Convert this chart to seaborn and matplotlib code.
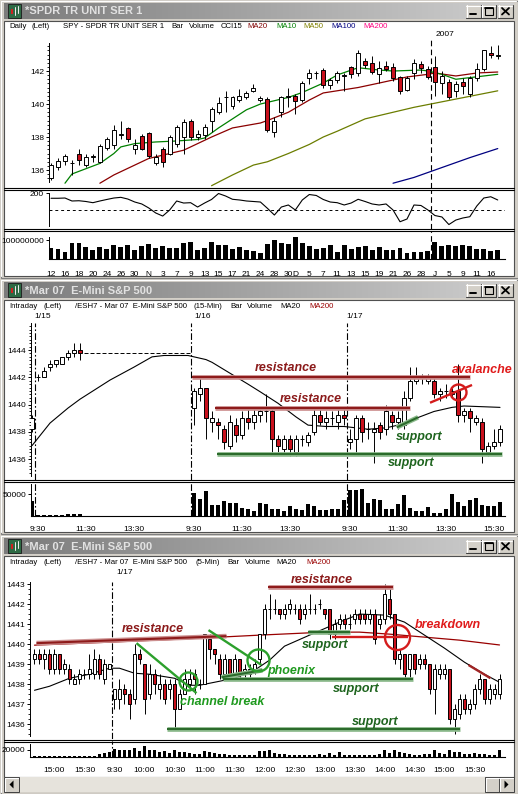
import numpy as np
import pandas as pd
import matplotlib
matplotlib.use("Agg")
import matplotlib.pyplot as plt
import seaborn as sns
from matplotlib.patches import Rectangle, Polygon
from matplotlib.colors import LinearSegmentedColormap

# ------------------------------------------------------------------
# SPY daily bars, 12 Oct 2006 - 17 Jan 2007
# ------------------------------------------------------------------
spy_dates = [
    "2006-10-12", "2006-10-13", "2006-10-16", "2006-10-17", "2006-10-18",
    "2006-10-19", "2006-10-20", "2006-10-23", "2006-10-24", "2006-10-25",
    "2006-10-26", "2006-10-27", "2006-10-30", "2006-10-31", "2006-11-01",
    "2006-11-02", "2006-11-03", "2006-11-06", "2006-11-07", "2006-11-08",
    "2006-11-09", "2006-11-10", "2006-11-13", "2006-11-14", "2006-11-15",
    "2006-11-16", "2006-11-17", "2006-11-20", "2006-11-21", "2006-11-22",
    "2006-11-24", "2006-11-27", "2006-11-28", "2006-11-29", "2006-11-30",
    "2006-12-01", "2006-12-04", "2006-12-05", "2006-12-06", "2006-12-07",
    "2006-12-08", "2006-12-11", "2006-12-12", "2006-12-13", "2006-12-14",
    "2006-12-15", "2006-12-18", "2006-12-19", "2006-12-20", "2006-12-21",
    "2006-12-22", "2006-12-26", "2006-12-27", "2006-12-28", "2006-12-29",
    "2007-01-03", "2007-01-04", "2007-01-05", "2007-01-08", "2007-01-09",
    "2007-01-10", "2007-01-11", "2007-01-12", "2007-01-16", "2007-01-17",
]
spy_open = [135.5, 136.2, 136.55, 136.45, 137.0, 136.3, 136.8, 136.5, 137.35, 137.5,
            138.15, 138.55, 137.3, 138.05, 138.25, 136.45, 137.25, 137.0, 137.6, 138.0,
            139.0, 138.0, 138.1, 139.0, 139.5, 140.4, 139.9, 140.25, 140.45, 140.8,
            140.25, 140.3, 138.3, 139.5, 140.45, 140.5, 140.25, 141.55, 141.85, 142.05,
            141.15, 141.45, 141.7, 142.25, 141.85, 142.6, 142.5, 141.8, 142.3, 142.25,
            141.65, 140.85, 141.85, 142.4, 142.1, 142.25, 141.25, 141.35, 140.8, 141.35,
            140.6, 141.55, 142.1, 143.1, 142.9]
spy_high = [136.4, 136.7, 137.0, 136.6, 137.3, 136.95, 136.95, 137.6, 138.0, 138.7,
            139.0, 138.6, 137.9, 138.2, 138.3, 137.0, 137.4, 138.1, 138.7, 139.1,
            139.1, 138.4, 138.8, 139.8, 140.4, 140.8, 140.5, 140.9, 140.8, 141.2,
            140.5, 140.4, 139.2, 140.5, 141.0, 140.6, 141.4, 142.1, 142.0, 142.2,
            141.6, 142.0, 141.9, 142.3, 143.3, 142.8, 142.9, 142.6, 142.6, 142.5,
            141.7, 141.7, 142.7, 142.6, 142.3, 142.9, 142.0, 141.5, 141.4, 141.6,
            141.7, 142.5, 143.3, 143.5, 143.6]
spy_low = [135.4, 136.0, 136.3, 135.7, 136.3, 136.2, 136.5, 136.4, 137.2, 137.3,
           137.9, 137.7, 137.0, 137.2, 136.7, 136.3, 136.2, 136.9, 137.4, 137.0,
           137.8, 137.8, 137.9, 138.3, 139.4, 139.5, 139.7, 140.1, 140.3, 140.7,
           140.1, 138.3, 138.0, 139.2, 139.8, 139.4, 140.1, 141.2, 141.5, 141.0,
           140.9, 141.3, 140.8, 141.6, 141.7, 142.2, 141.8, 141.3, 142.0, 141.4,
           140.6, 140.8, 141.5, 141.9, 141.5, 140.5, 140.6, 140.3, 140.4, 140.6,
           140.4, 141.4, 142.0, 142.8, 142.7]
spy_close = [136.3, 136.55, 136.85, 136.4, 136.6, 136.8, 136.85, 137.45, 137.9, 138.4,
             138.2, 137.9, 137.5, 137.3, 136.85, 136.8, 136.5, 138.0, 138.6, 138.9,
             138.0, 138.2, 138.6, 139.7, 140.05, 140.45, 140.4, 140.5, 140.65, 141.0,
             140.35, 138.4, 139.0, 140.45, 140.5, 140.2, 141.3, 141.9, 141.9, 141.15,
             141.45, 141.9, 141.75, 141.8, 143.1, 142.35, 141.95, 142.2, 142.15, 141.6,
             140.8, 141.6, 142.5, 142.2, 141.65, 141.35, 141.7, 140.45, 141.2, 141.1,
             141.55, 142.15, 143.25, 142.95, 143.0]
spy_volume = [56e6, 51e6, 38e6, 83e6, 83e6, 62e6, 47e6, 62e6, 51e6, 72e6,
              62e6, 72e6, 47e6, 67e6, 79e6, 56e6, 67e6, 56e6, 56e6, 83e6,
              88e6, 47e6, 56e6, 88e6, 72e6, 72e6, 51e6, 62e6, 47e6, 40e6,
              30e6, 79e6, 100e6, 83e6, 77e6, 116e6, 83e6, 69e6, 54e6, 60e6,
              72e6, 38e6, 72e6, 53e6, 62e6, 69e6, 47e6, 62e6, 47e6, 47e6,
              58e6, 30e6, 37e6, 38e6, 42e6, 90e6, 69e6, 72e6, 69e6, 72e6,
              69e6, 53e6, 53e6, 40e6, 47e6]
spy_cci = [138, 138, 141, 106, 109, 100, 86, 106, 124, 141,
           149, 129, 94, 71, 24, -35, -71, 0, 106, 82,
           86, 35, 82, 124, 194, 165, 126, 118, 106, 100,
           94, 20, -59, 35, 59, 0, 118, 182, 171, 124,
           94, 86, 59, 82, 126, 100, 71, 59, 71, 0,
           -138, -106, 59, 53, 0, -65, -82, -171, -118, -94,
           -79, 47, 141, 156, 118]
spy_ma10 = {"2006-10-16": 135.2, "2006-10-17": 135.76, "2006-10-23": 136.4, "2006-10-25": 137.0,
            "2006-10-26": 137.4, "2006-10-30": 137.6, "2006-11-02": 137.7, "2006-11-07": 137.76,
            "2006-11-10": 137.85, "2006-11-13": 137.94, "2006-11-15": 138.55, "2006-11-17": 139.1,
            "2006-11-21": 139.65, "2006-11-24": 140.0, "2006-11-30": 140.4, "2006-12-04": 140.7,
            "2006-12-07": 141.27, "2006-12-11": 141.76, "2006-12-14": 142.2, "2006-12-19": 142.06,
            "2006-12-21": 142.0, "2006-12-28": 142.06, "2006-12-29": 142.0, "2007-01-04": 141.8,
            "2007-01-08": 141.5, "2007-01-10": 141.6, "2007-01-17": 141.8}
spy_ma20 = {"2006-10-23": 135.2, "2006-10-25": 135.7, "2006-10-30": 136.3, "2006-11-01": 136.7,
            "2006-11-06": 137.0, "2006-11-08": 137.2, "2006-11-14": 138.0, "2006-11-17": 138.55,
            "2006-11-21": 138.7, "2006-11-24": 138.85, "2006-11-27": 139.0, "2006-11-30": 139.5,
            "2006-12-05": 140.24, "2006-12-07": 140.67, "2006-12-14": 141.0, "2006-12-19": 141.27,
            "2006-12-26": 141.64, "2006-12-29": 141.8, "2007-01-03": 141.88, "2007-01-08": 141.7,
            "2007-01-11": 141.88, "2007-01-17": 141.94}
spy_ma50 = {"2006-11-14": 135.05, "2006-11-17": 135.7, "2006-11-22": 136.3, "2006-11-27": 136.5,
            "2006-11-30": 137.0, "2006-12-05": 137.55, "2006-12-07": 138.0, "2006-12-11": 138.35,
            "2006-12-15": 139.1, "2006-12-21": 139.5, "2006-12-27": 139.8, "2007-01-03": 140.05,
            "2007-01-08": 140.3, "2007-01-11": 140.55, "2007-01-17": 140.8}
spy_ma100 = {"2006-12-21": 135.2, "2006-12-27": 135.55, "2007-01-03": 136.0, "2007-01-05": 136.3,
             "2007-01-10": 136.75, "2007-01-17": 137.3}
spy_tick_dates = ["2006-10-12", "2006-10-16", "2006-10-18", "2006-10-20", "2006-10-24", "2006-10-26",
                  "2006-10-30", "2006-11-01", "2006-11-03", "2006-11-07", "2006-11-09", "2006-11-13",
                  "2006-11-15", "2006-11-17", "2006-11-21", "2006-11-24", "2006-11-28", "2006-11-30",
                  "2006-12-01", "2006-12-05", "2006-12-07", "2006-12-11", "2006-12-13", "2006-12-15",
                  "2006-12-19", "2006-12-21", "2006-12-26", "2006-12-28", "2007-01-03", "2007-01-05",
                  "2007-01-09", "2007-01-11", "2007-01-16"]
spy_tick_labels = ["12", "16", "18", "20", "24", "26", "30", "N", "3", "7", "9", "13", "15", "17",
                   "21", "24", "28", "30", "D", "5", "7", "11", "13", "15", "19", "21", "26", "28",
                   "J", "5", "9", "11", "16"]

# ------------------------------------------------------------------
# E-mini S&P 500 (ESH7), 15-minute bars: last bar of 1/12, then 1/15-1/17
# ------------------------------------------------------------------
es15_days = ["2007-01-12", "2007-01-15", "2007-01-16", "2007-01-17"]
es15_open = ([1438.25] +
             [1442.0, 1442.0, 1442.75, 1443.0, 1443.0, 1443.5, 1443.75, 1444.0,
              1443.75, 1443.75, 1443.75, 1443.75, 1443.75, 1443.75, 1443.75, 1443.75, 1443.75,
              1443.75, 1443.75, 1443.75, 1443.75, 1443.75, 1443.75, 1443.75, 1443.75, 1443.75] +
             [1439.75, 1440.75, 1441.25, 1438.75, 1438.75, 1438.25, 1437.0, 1438.5, 1437.75, 1439.0,
              1438.75, 1439.25, 1439.5, 1439.5, 1437.5, 1436.75, 1437.5, 1436.5, 1437.5, 1437.25,
              1438.0, 1439.25, 1438.75, 1439.0, 1438.75, 1439.25] +
             [1437.25, 1437.5, 1439.0, 1438.25, 1438.0, 1438.5, 1438.25, 1439.25, 1438.75, 1438.5,
              1440.5, 1441.75, 1442.0, 1441.75, 1441.75, 1440.75, 1441.0, 1440.75, 1441.0, 1439.25,
              1439.5, 1438.75, 1438.75, 1436.5, 1437.0, 1437.25])
es15_high = ([1439.25] +
             [1442.25, 1442.75, 1443.25, 1443.25, 1443.5, 1444.0, 1444.5, 1444.5,
              1443.75, 1443.75, 1443.75, 1443.75, 1443.75, 1443.75, 1443.75, 1443.75, 1443.75,
              1443.75, 1443.75, 1443.75, 1443.75, 1443.75, 1443.75, 1443.75, 1443.75, 1443.75] +
             [1441.25, 1442.0, 1441.25, 1439.5, 1439.0, 1438.5, 1439.25, 1439.0, 1439.5, 1439.75,
              1439.75, 1439.75, 1440.75, 1439.75, 1437.75, 1437.75, 1437.75, 1437.75, 1437.75, 1438.0,
              1439.75, 1439.75, 1439.5, 1439.5, 1439.75, 1439.75] +
             [1438.25, 1439.25, 1439.25, 1438.75, 1438.75, 1438.75, 1440.0, 1439.5, 1439.5, 1441.0,
              1442.75, 1442.75, 1442.25, 1442.25, 1442.0, 1441.25, 1441.5, 1441.25, 1443.0, 1439.75,
              1439.75, 1439.25, 1439.0, 1437.25, 1438.25, 1438.5])
es15_low = ([1438.0] +
            [1441.75, 1442.0, 1442.5, 1442.75, 1443.0, 1443.25, 1443.5, 1443.25,
             1443.75, 1443.75, 1443.75, 1443.75, 1443.75, 1443.75, 1443.75, 1443.75, 1443.75,
             1443.75, 1443.75, 1443.75, 1443.75, 1443.75, 1443.75, 1443.75, 1443.75, 1443.75] +
            [1438.5, 1440.25, 1437.5, 1438.0, 1437.5, 1436.75, 1436.75, 1437.25, 1437.5, 1438.25,
             1438.25, 1438.75, 1438.75, 1436.5, 1436.5, 1436.5, 1436.25, 1436.25, 1437.0, 1437.0,
             1437.75, 1438.5, 1438.25, 1438.5, 1438.25, 1438.5] +
            [1436.75, 1436.5, 1437.25, 1437.5, 1435.75, 1437.5, 1437.75, 1438.25, 1438.25, 1438.25,
             1440.25, 1441.5, 1441.5, 1441.5, 1440.5, 1440.25, 1440.5, 1440.5, 1438.75, 1438.75,
             1438.0, 1438.5, 1435.75, 1436.25, 1436.75, 1437.0])
es15_close = ([1439.0] +
              [1442.0, 1442.5, 1443.0, 1443.25, 1443.5, 1443.75, 1444.0, 1443.75,
               1443.75, 1443.75, 1443.75, 1443.75, 1443.75, 1443.75, 1443.75, 1443.75, 1443.75,
               1443.75, 1443.75, 1443.75, 1443.75, 1443.75, 1443.75, 1443.75, 1443.75, 1443.75] +
              [1441.0, 1441.25, 1439.0, 1439.0, 1438.5, 1437.25, 1438.75, 1437.75, 1439.0, 1438.75,
               1439.25, 1439.5, 1439.5, 1437.5, 1437.0, 1437.5, 1436.75, 1437.5, 1437.5, 1437.75,
               1439.25, 1438.75, 1439.0, 1439.0, 1439.25, 1439.0] +
              [1437.5, 1439.0, 1438.0, 1438.25, 1438.25, 1438.0, 1439.5, 1438.75, 1439.0, 1440.5,
               1441.75, 1442.0, 1442.0, 1442.0, 1440.75, 1441.0, 1441.0, 1441.0, 1439.25, 1439.5,
               1439.0, 1439.0, 1436.75, 1437.0, 1437.25, 1438.25])
es15_volume = ([34000] +
               [3000, 3000, 3000, 3000, 3000, 4000, 5000, 5000,
                0, 0, 0, 0, 0, 0, 0, 0, 0, 0, 0, 0, 0, 0, 0, 0, 0, 0] +
               [52000, 40000, 58000, 25000, 25000, 34000, 29000, 29000, 19000, 17000,
                11000, 29000, 28000, 17000, 17000, 11000, 22000, 17000, 13000, 27000,
                22000, 13000, 13000, 17000, 17000, 38000] +
               [61000, 61000, 63000, 29000, 40000, 36000, 17000, 17000, 28000, 48000,
                19000, 11000, 11000, 21000, 7000, 7000, 17000, 50000, 32000, 22000,
                38000, 42000, 25000, 22000, 22000, 32000])
es15_ma20 = {"2007-01-12 15:45": 1437.0, "2007-01-15 10:00": 1438.65, "2007-01-15 10:45": 1439.75,
             "2007-01-15 11:15": 1440.4, "2007-01-15 12:30": 1441.8, "2007-01-15 13:30": 1442.75,
             "2007-01-15 14:15": 1443.5, "2007-01-15 14:45": 1443.6, "2007-01-15 15:45": 1443.6,
             "2007-01-16 10:00": 1443.3, "2007-01-16 10:15": 1443.1, "2007-01-16 11:00": 1442.3,
             "2007-01-16 11:45": 1441.5, "2007-01-16 12:15": 1440.95, "2007-01-16 13:00": 1440.1,
             "2007-01-16 13:45": 1439.1, "2007-01-16 14:15": 1438.5, "2007-01-16 15:00": 1438.4,
             "2007-01-16 15:45": 1438.4, "2007-01-17 10:15": 1438.2, "2007-01-17 11:00": 1438.3,
             "2007-01-17 11:30": 1438.5, "2007-01-17 12:15": 1439.0, "2007-01-17 13:00": 1439.5,
             "2007-01-17 13:45": 1439.8, "2007-01-17 14:15": 1439.9, "2007-01-17 15:00": 1439.85,
             "2007-01-17 15:45": 1439.8}
es15_tick_times = ["2007-01-15 09:30", "2007-01-15 11:30", "2007-01-15 13:30",
                   "2007-01-16 09:30", "2007-01-16 11:30", "2007-01-16 13:30",
                   "2007-01-17 09:30", "2007-01-17 11:30", "2007-01-17 13:30", "2007-01-17 15:30"]
# hand-drawn study lines: (from, to, price at start, price at end, style)
es15_lines = [
    ("2007-01-16 09:26", "2007-01-17 14:30", 1442.0, 1442.0, "resistance"),
    ("2007-01-16 10:22", "2007-01-17 12:00", 1439.75, 1439.75, "resistance"),
    ("2007-01-16 10:27", "2007-01-17 15:49", 1436.4, 1436.4, "support"),
    ("2007-01-17 11:27", "2007-01-17 12:20", 1438.34, 1439.07, "support"),
    ("2007-01-17 12:50", "2007-01-17 14:35", 1440.14, 1441.44, "break"),
]
es15_circles = [("2007-01-17 14:00", 1440.95, 16, "break")]
es15_notes = [
    ("2007-01-16 13:20", 1442.68, "resistance", "resistance"),
    ("2007-01-16 14:22", 1440.40, "resistance", "resistance"),
    ("2007-01-17 12:22", 1437.60, "support", "support"),
    ("2007-01-17 12:03", 1435.74, "support", "support"),
    ("2007-01-17 15:00", 1442.53, "avalanche", "break"),
]

# ------------------------------------------------------------------
# E-mini S&P 500 (ESH7), 5-minute bars: close of 1/16 and all of 1/17
# ------------------------------------------------------------------
es5_days = ["2007-01-16", "2007-01-17"]
es5_open = ([1439.25, 1439.5, 1439.25, 1439.5, 1438.75, 1439.5, 1438.75, 1438.75,
             1438.0, 1438.25, 1438.5, 1438.5, 1438.5, 1439.25, 1438.25, 1438.75] +
            [1437.25, 1437.25, 1437.75, 1437.5, 1437.25, 1439.5, 1439.0, 1437.5, 1438.5, 1437.75,
             1438.0, 1437.75, 1438.0, 1436.75, 1437.5, 1438.0, 1438.5, 1438.0, 1438.0, 1440.25,
             1439.75, 1439.25, 1438.5, 1439.25, 1438.5, 1439.25, 1438.5, 1438.5, 1438.75, 1439.25,
             1440.5, 1441.75, 1441.75, 1441.75, 1441.5, 1441.75, 1441.75, 1441.75, 1441.5, 1441.75,
             1441.75, 1442.0, 1441.75, 1441.75, 1440.5, 1441.0, 1441.25, 1441.0, 1441.25, 1441.5,
             1441.5, 1441.25, 1441.5, 1441.0, 1441.25, 1442.25, 1441.5, 1439.25, 1439.5, 1438.75,
             1439.5, 1439.0, 1439.25, 1439.0, 1437.75, 1438.5, 1438.5, 1438.75, 1436.25, 1436.5,
             1437.25, 1436.75, 1437.0, 1437.75, 1438.25, 1437.25, 1437.5, 1437.5])
es5_high = ([1439.75, 1439.75, 1439.75, 1439.75, 1439.75, 1439.5, 1439.25, 1439.0,
             1438.5, 1438.75, 1438.75, 1439.5, 1439.75, 1439.5, 1439.25, 1439.0] +
            [1437.75, 1438.25, 1438.0, 1437.75, 1440.0, 1439.75, 1439.0, 1439.0, 1438.75, 1438.5,
             1438.25, 1438.25, 1438.25, 1437.75, 1438.75, 1438.75, 1438.75, 1438.25, 1440.5, 1440.5,
             1439.75, 1439.5, 1439.5, 1439.25, 1439.5, 1439.25, 1439.0, 1439.0, 1439.25, 1440.5,
             1442.0, 1442.5, 1442.25, 1441.75, 1442.0, 1442.25, 1442.0, 1442.0, 1442.0, 1442.5,
             1442.0, 1442.25, 1441.75, 1441.75, 1441.25, 1441.5, 1441.5, 1441.5, 1441.75, 1441.75,
             1441.75, 1441.75, 1441.75, 1441.5, 1443.0, 1442.75, 1441.5, 1439.75, 1439.5, 1439.5,
             1439.5, 1439.5, 1439.5, 1439.0, 1439.0, 1439.0, 1439.0, 1438.75, 1437.0, 1437.5,
             1437.5, 1437.25, 1438.0, 1438.5, 1438.25, 1438.0, 1438.0, 1438.5])
es5_low = ([1439.0, 1439.0, 1438.75, 1438.5, 1438.5, 1438.5, 1438.5, 1438.0,
            1438.0, 1438.0, 1438.25, 1438.25, 1438.25, 1438.25, 1438.0, 1438.75] +
           [1436.75, 1436.75, 1437.0, 1436.25, 1437.0, 1439.0, 1436.5, 1437.25, 1437.5, 1437.25,
            1437.0, 1437.25, 1435.75, 1436.75, 1437.5, 1437.75, 1437.5, 1437.75, 1438.0, 1439.25,
            1439.0, 1438.25, 1438.5, 1438.25, 1438.5, 1438.25, 1438.25, 1438.25, 1438.5, 1439.0,
            1440.25, 1441.25, 1441.5, 1441.25, 1441.25, 1441.5, 1441.5, 1441.0, 1441.25, 1441.5,
            1441.5, 1441.75, 1441.25, 1440.25, 1440.25, 1440.75, 1440.75, 1440.75, 1441.0, 1441.0,
            1441.0, 1441.0, 1440.0, 1440.75, 1441.0, 1441.25, 1439.0, 1438.75, 1438.25, 1438.25,
            1438.5, 1438.75, 1438.75, 1437.5, 1436.5, 1438.25, 1438.25, 1436.0, 1435.5, 1436.25,
            1436.5, 1436.5, 1436.75, 1437.5, 1437.0, 1437.0, 1437.25, 1437.25])
es5_close = ([1439.5, 1439.25, 1439.5, 1438.75, 1439.5, 1438.75, 1439.0, 1438.25,
              1438.25, 1438.5, 1438.5, 1438.75, 1439.25, 1438.5, 1439.0, 1439.0] +
             [1437.75, 1437.75, 1437.5, 1437.0, 1439.5, 1439.25, 1437.25, 1438.5, 1438.0, 1438.0,
              1437.25, 1438.0, 1436.75, 1437.5, 1438.25, 1438.25, 1438.25, 1438.0, 1440.5, 1439.75,
              1439.5, 1438.5, 1439.25, 1438.5, 1439.25, 1438.5, 1438.75, 1438.75, 1439.0, 1440.5,
              1441.75, 1441.75, 1441.75, 1441.5, 1441.75, 1442.0, 1441.75, 1441.25, 1441.75, 1441.75,
              1441.75, 1442.0, 1441.5, 1440.5, 1441.0, 1441.25, 1441.0, 1441.0, 1441.5, 1441.25,
              1441.25, 1441.5, 1440.25, 1441.25, 1442.5, 1441.5, 1439.25, 1439.5, 1438.5, 1439.5,
              1438.75, 1439.25, 1439.0, 1437.75, 1438.75, 1438.75, 1438.75, 1436.25, 1436.75, 1437.25,
              1436.75, 1437.0, 1437.75, 1438.25, 1437.25, 1437.75, 1437.75, 1438.25])
es5_volume = ([2000, 2000, 2000, 2000, 2000, 2000, 2000, 2000,
               2000, 2000, 2000, 2000, 3000, 7000, 11000, 14000] +
              [21600, 19800, 19800, 18000, 23400, 16200, 28800, 19800, 18000, 13500,
               16200, 10800, 18000, 14400, 12600, 10800, 7200, 9000, 15300, 12600,
               10800, 9000, 7200, 5400, 6300, 6300, 6300, 5400, 5400, 15300,
               16200, 18000, 10800, 9000, 7200, 5400, 5400, 5400, 5400, 5400,
               5400, 7200, 6300, 10800, 5400, 12600, 5400, 5400, 5400, 5400,
               5400, 5400, 6300, 7200, 18000, 10800, 18000, 12600, 10800, 7200,
               6300, 5400, 7200, 9000, 18000, 10800, 7200, 18000, 14400, 12600,
               9000, 7200, 10800, 7200, 7200, 5400, 5400, 18000])
es5_ma20 = {"2007-01-16 14:40": 1437.7, "2007-01-16 14:55": 1437.9, "2007-01-16 15:15": 1438.3,
            "2007-01-16 15:35": 1438.5, "2007-01-16 15:55": 1438.8, "2007-01-17 09:35": 1438.8,
            "2007-01-17 09:50": 1438.55, "2007-01-17 10:05": 1438.5, "2007-01-17 10:30": 1438.3,
            "2007-01-17 10:45": 1437.95, "2007-01-17 10:55": 1437.95, "2007-01-17 11:10": 1438.1,
            "2007-01-17 11:30": 1438.3, "2007-01-17 11:50": 1438.7, "2007-01-17 12:05": 1439.2,
            "2007-01-17 12:20": 1439.9, "2007-01-17 12:45": 1440.45, "2007-01-17 13:15": 1441.1,
            "2007-01-17 13:35": 1441.5, "2007-01-17 14:00": 1441.45, "2007-01-17 14:20": 1441.1,
            "2007-01-17 14:40": 1440.45, "2007-01-17 15:00": 1439.8, "2007-01-17 15:20": 1439.1,
            "2007-01-17 15:40": 1438.5, "2007-01-17 15:55": 1438.1}
es5_ma200 = {"2007-01-16 14:40": 1439.95, "2007-01-16 15:55": 1440.1, "2007-01-17 10:35": 1440.25,
             "2007-01-17 11:55": 1440.45, "2007-01-17 13:00": 1440.6, "2007-01-17 13:35": 1440.6,
             "2007-01-17 14:05": 1440.5, "2007-01-17 15:15": 1440.2, "2007-01-17 15:55": 1439.96}
es5_tick_times = ["2007-01-16 15:00", "2007-01-16 15:30", "2007-01-17 09:30", "2007-01-17 10:00",
                  "2007-01-17 10:30", "2007-01-17 11:00", "2007-01-17 11:30", "2007-01-17 12:00",
                  "2007-01-17 12:30", "2007-01-17 13:00", "2007-01-17 13:30", "2007-01-17 14:00",
                  "2007-01-17 14:30", "2007-01-17 15:00", "2007-01-17 15:30"]
es5_lines = [
    ("2007-01-16 14:42", "2007-01-17 11:22", 1440.05, 1440.40, "resistance"),
    ("2007-01-17 12:03", "2007-01-17 14:08", 1442.85, 1442.85, "resistance"),
    ("2007-01-17 11:18", "2007-01-17 14:28", 1438.25, 1438.25, "support"),
    ("2007-01-17 10:22", "2007-01-17 15:15", 1435.75, 1435.75, "support"),
    ("2007-01-17 12:43", "2007-01-17 13:25", 1440.60, 1440.60, "support"),
    ("2007-01-17 11:17", "2007-01-17 11:58", 1438.35, 1438.70, "support"),
    ("2007-01-17 09:52", "2007-01-17 10:52", 1440.05, 1437.56, "pattern"),
    ("2007-01-17 11:04", "2007-01-17 11:57", 1440.70, 1438.96, "pattern"),
    ("2007-01-17 13:07", "2007-01-17 14:23", 1440.35, 1440.35, "break"),
    ("2007-01-17 15:24", "2007-01-17 15:46", 1438.96, 1438.30, "fade"),
]
es5_circles = [("2007-01-17 10:43", 1438.16, 18, "pattern"),
               ("2007-01-17 11:53", 1439.20, 22, "pattern"),
               ("2007-01-17 14:12", 1440.37, 25, "break")]
es5_notes = [
    ("2007-01-17 10:08", 1440.76, "resistance", "resistance"),
    ("2007-01-17 12:57", 1443.22, "resistance", "resistance"),
    ("2007-01-17 13:01", 1439.96, "support", "support"),
    ("2007-01-17 13:32", 1437.76, "support", "support"),
    ("2007-01-17 13:51", 1436.12, "support", "support"),
    ("2007-01-17 12:27", 1438.66, "phoenix", "pattern"),
    ("2007-01-17 11:18", 1437.11, "channel break", "pattern"),
    ("2007-01-17 15:03", 1440.95, "breakdown", "break"),
]

# ------------------------------------------------------------------
# drawing helpers
# ------------------------------------------------------------------
RED = "#c8101c"
LINE_STYLES = {
    "resistance": dict(halo="#cc9090", core="#8e1b1b"),
    "support": dict(halo="#8cba8c", core="#2b6b2b"),
    "break": dict(halo=None, core="#d41c1c"),
    "pattern": dict(halo=None, core="#2ca02c"),
    "fade": dict(halo=None, core="#a02424"),
}
NOTE_COLORS = {"resistance": "#8b1a1a", "support": "#1e641e", "pattern": "#1f9a1f", "break": "#e01b1b"}
HEADER_SIZE = 5.6

sns.set_theme(style="white")
plt.rcParams["font.family"] = ["Liberation Sans", "DejaVu Sans"]

W, H = 518, 794
fig = plt.figure(figsize=(W / 100, H / 100), dpi=100)
fig.patch.set_facecolor("#d4d0c8")


def px_axes(x0, y0, x1, y1, z=2):
    ax = fig.add_axes([x0 / W, 1 - y1 / H, (x1 - x0) / W, (y1 - y0) / H], zorder=z)
    ax.patch.set_visible(False)
    return ax


def slots(stamps, days, first_day, minutes, per_day):
    ts = pd.to_datetime(pd.Series(list(stamps)), format="mixed")
    day_pos = ts.dt.strftime("%Y-%m-%d").map(lambda d: days.index(d) - days.index(first_day))
    mins = ts.dt.hour * 60 + ts.dt.minute + ts.dt.second / 60.0
    return (day_pos * per_day + (mins - 570) / minutes).to_numpy(float)


def session_times(start, count, freq):
    return [t.strftime("%Y-%m-%d %H:%M") for t in pd.date_range(start, periods=count, freq=freq)]


def draw_candles(ax, x, o, h, l, c, width):
    x = np.asarray(x, float)
    o, h, l, c = (np.asarray(v, float) for v in (o, h, l, c))
    ax.vlines(x, l, h, color="black", lw=0.7, zorder=3)
    up = c >= o
    ax.bar(x[up], c[up] - o[up], width, bottom=o[up], color="white",
           edgecolor="black", linewidth=0.7, zorder=4)
    ax.bar(x[~up], o[~up] - c[~up], width, bottom=c[~up], color=RED,
           edgecolor="black", linewidth=0.7, zorder=4)


def draw_volume(ax, x, v, width):
    sns.barplot(x=np.asarray(x, float), y=np.asarray(v, float), ax=ax, native_scale=True,
                orient="x", width=width, color="black", saturation=1, errorbar=None,
                linewidth=0, edgecolor="none")


def draw_ma(ax, x, y, color, lw=0.9):
    sns.lineplot(x=np.asarray(x, float), y=np.asarray(y, float), ax=ax, color=color,
                 linewidth=lw, estimator=None, zorder=2)


def style_pane(ax, lo, hi, major, minor_step=None, labels=None, baseline=False):
    for side in ("top", "right", "bottom"):
        ax.spines[side].set_visible(False)
    ax.spines["left"].set_bounds(lo, hi)
    ax.spines["left"].set_color("black")
    ax.spines["left"].set_linewidth(0.7)
    if baseline:
        ax.spines["bottom"].set_visible(True)
        ax.spines["bottom"].set_color("black")
        ax.spines["bottom"].set_linewidth(0.8)
    ax.set_yticks(major, labels=labels if labels is not None else [f"{v:g}" for v in major])
    if minor_step:
        start = np.ceil(lo / minor_step) * minor_step
        ax.set_yticks(np.arange(start, hi + 1e-9, minor_step), minor=True)
    ax.tick_params(axis="y", which="major", left=True, length=2.5, width=0.7, color="black",
                   labelsize=6, labelcolor="black", pad=1)
    ax.tick_params(axis="y", which="minor", left=True, length=1.4, width=0.6, color="black")
    ax.set_xticks([])
    ax.set_xlabel("")
    ax.set_ylabel("")
    ax.grid(False)


def study_line(ax, x0, x1, y0, y1, kind):
    st = LINE_STYLES[kind]
    if st["halo"]:
        ax.plot([x0, x1], [y0, y1], color=st["halo"], lw=3.4, solid_capstyle="butt", zorder=6)
        ax.plot([x0, x1], [y0, y1], color=st["core"], lw=1.5, solid_capstyle="butt", zorder=7)
    else:
        ax.plot([x0, x1], [y0, y1], color=st["core"], lw=1.7, solid_capstyle="butt", zorder=7)


def draw_studies(ax, lines, circles, notes, to_x):
    for a, b, p0, p1, kind in lines:
        xa, xb = to_x([a, b])
        study_line(ax, xa, xb, p0, p1, kind)
    for t, p, diam, kind in circles:
        ax.plot(to_x([t]), [p], marker="o", ms=diam * 0.72, mfc="none",
                mec=LINE_STYLES[kind]["core"], mew=1.7, zorder=8)
    for t, p, text, kind in notes:
        ax.text(to_x([t])[0], p, text, color=NOTE_COLORS[kind], fontsize=9, fontweight="bold",
                fontstyle="italic", ha="center", va="center", zorder=9, clip_on=False)


def day_marks(ax, xs, style=(0, (6, 2, 1.5, 2))):
    for x in xs:
        ax.axvline(x, color="black", lw=0.8, ls=style, zorder=1)


def top_label(ax, x, text, dy_px):
    ax.annotate(text, xy=(x, 1), xycoords=("data", "axes fraction"), xytext=(0, dy_px * 0.72),
                textcoords="offset points", ha="center", va="center", fontsize=6, color="black",
                annotation_clip=False)


# ------------------------------------------------------------------
# window chrome
# ------------------------------------------------------------------
chrome = px_axes(0, 0, W, H, z=0)
title_cmap = LinearSegmentedColormap.from_list("title", ["#7b7b7b", "#cfcfcf"])
grad = np.linspace(0, 1, 256)[None, :]


def button(x, y):
    chrome.add_patch(Rectangle((x, y), 15, 13, fc="#d4d0c8", ec="none", zorder=3))
    chrome.plot([x, x + 15], [y + 0.5, y + 0.5], color="white", lw=0.8, zorder=4)
    chrome.plot([x + 0.5, x + 0.5], [y, y + 13], color="white", lw=0.8, zorder=4)
    chrome.plot([x, x + 15], [y + 12.5, y + 12.5], color="#404040", lw=0.8, zorder=4)
    chrome.plot([x + 14.5, x + 14.5], [y, y + 13], color="#404040", lw=0.8, zorder=4)


def window(y0, y1, content_bottom, title, header, header_y):
    chrome.add_patch(Rectangle((0.5, y0 + 0.5), W - 1, y1 - y0 - 1, fc="#d4d0c8",
                               ec="#808080", lw=0.8, zorder=1))
    chrome.plot([1, W - 2], [y0 + 1.3, y0 + 1.3], color="white", lw=0.8, zorder=2)
    chrome.plot([1.3, 1.3], [y0 + 1, y1 - 2], color="white", lw=0.8, zorder=2)
    chrome.imshow(grad, extent=(4, 514, y0 + 19, y0 + 3), cmap=title_cmap, aspect="auto",
                  interpolation="bilinear", zorder=2)
    chrome.add_patch(Rectangle((4, y0 + 21), 510, content_bottom - y0 - 21, fc="white",
                               ec="#505050", lw=0.8, zorder=2))
    # application icon
    chrome.add_patch(Rectangle((8, y0 + 4), 13, 14, fc="#2e6a44", ec="#1a1a1a", lw=0.6, zorder=3))
    chrome.add_patch(Rectangle((11, y0 + 9), 2, 5, fc="#d02020", ec="none", zorder=4))
    chrome.plot([15, 15], [y0 + 7, y0 + 15], color="#f0f0f0", lw=0.7, zorder=4)
    chrome.plot([18, 18], [y0 + 6, y0 + 13], color="#f0f0f0", lw=0.7, zorder=4)
    chrome.text(25, y0 + 11.5, title, fontsize=8, fontweight="bold", color="#e2e2e2",
                ha="left", va="center", zorder=4)
    for bx in (466, 481, 498):
        button(bx, y0 + 5)
    chrome.plot([470, 476], [y0 + 14.2, y0 + 14.2], color="black", lw=1.4, zorder=5)
    chrome.add_patch(Rectangle((484.5, y0 + 7.5), 8, 7, fc="none", ec="black", lw=0.8, zorder=5))
    chrome.plot([484.5, 492.5], [y0 + 8.2, y0 + 8.2], color="black", lw=1.3, zorder=5)
    chrome.plot([502, 509], [y0 + 8, y0 + 14.5], color="black", lw=1.3, zorder=5)
    chrome.plot([502, 509], [y0 + 14.5, y0 + 8], color="black", lw=1.3, zorder=5)
    for text, x, color in header:
        chrome.text(x, header_y, text, fontsize=HEADER_SIZE, color=color, ha="left", va="center", zorder=4)


window(0, 278, 276, "*SPDR TR UNIT SER 1",
       [("Daily", 9, "black"), ("(Left)", 32, "black"), ("SPY - SPDR TR UNIT SER 1", 63, "black"),
        ("Bar", 171, "black"), ("Volume", 189, "black"), ("CCI15", 221, "black"),
        ("MA20", 247, "#800000"), ("MA10", 276, "#008000"), ("MA50", 303, "#808000"),
        ("MA100", 331, "#000080"), ("MA200", 363, "#ff0080")], 26)
window(279, 534, 532, "*Mar 07  E-Mini S&P 500",
       [("Intraday", 9, "black"), ("(Left)", 43, "black"),
        ("/ESH7 - Mar 07  E-Mini S&P 500", 75, "black"), ("(15-Min)", 194, "black"),
        ("Bar", 230, "black"), ("Volume", 247, "black"), ("MA20", 280, "black"),
        ("MA200", 309, "#990000")], 306)
window(535, 794, 777, "*Mar 07  E-Mini S&P 500",
       [("Intraday", 9, "black"), ("(Left)", 43, "black"),
        ("/ESH7 - Mar 07  E-Mini S&P 500", 75, "black"), ("(5-Min)", 195, "black"),
        ("Bar", 227, "black"), ("Volume", 245, "black"), ("MA20", 276, "black"),
        ("MA200", 306, "#990000")], 563)

# horizontal scroll bar of the 5-minute window
chrome.add_patch(Rectangle((4, 777), 510, 15, fc="#e6e3dc", ec="none", zorder=3))
for bx in (4, 485, 499):
    chrome.add_patch(Rectangle((bx, 777), 15, 15, fc="#d4d0c8", ec="#404040", lw=0.7, zorder=4))
    chrome.plot([bx + 0.6, bx + 14.4], [777.6, 777.6], color="white", lw=0.8, zorder=5)
    chrome.plot([bx + 0.6, bx + 0.6], [777.6, 791.4], color="white", lw=0.8, zorder=5)
chrome.add_patch(Polygon([[9.5, 784.5], [13.5, 780.5], [13.5, 788.5]], closed=True, fc="black", ec="none", zorder=6))
chrome.add_patch(Polygon([[508.5, 784.5], [504.5, 780.5], [504.5, 788.5]], closed=True, fc="black", ec="none", zorder=6))
chrome.set_xlim(0, W)
chrome.set_ylim(H, 0)
chrome.axis("off")

# ------------------------------------------------------------------
# window 1: SPY daily
# ------------------------------------------------------------------
x_spy = np.arange(len(spy_dates))
ax_p1 = px_axes(49, 40, 505, 188)
ax_c1 = px_axes(49, 190, 505, 229)
ax_v1 = px_axes(49, 231, 505, 259)

for ma, color in ((spy_ma100, "#000080"), (spy_ma50, "#6b7d00"), (spy_ma20, "#8b0000"), (spy_ma10, "#008000")):
    draw_ma(ax_p1, [spy_dates.index(d) for d in ma], list(ma.values()), color)
draw_candles(ax_p1, x_spy, spy_open, spy_high, spy_low, spy_close, 0.57)
style_pane(ax_p1, 135.27, 143.7, [136, 138, 140, 142], 0.25)
ax_p1.set_ylim(134.91, 143.88)

sns.lineplot(x=x_spy, y=spy_cci, ax=ax_c1, color="black", linewidth=0.8, estimator=None)
ax_c1.axhline(0, color="black", lw=0.7, ls=(0, (3, 3)))
style_pane(ax_c1, -188, 200, [200])
ax_c1.set_ylim(-223.5, 235.3)

draw_volume(ax_v1, x_spy, spy_volume, 0.7)
style_pane(ax_v1, 0, 116e6, [100e6], labels=["100000000"], baseline=True)
ax_v1.set_ylim(0, 147.4e6)
ax_v1.set_xticks([spy_dates.index(d) for d in spy_tick_dates], labels=spy_tick_labels)
ax_v1.tick_params(axis="x", bottom=True, length=0, labelsize=6, labelcolor="black", pad=8.3)

year_start = next(i for i, d in enumerate(spy_dates) if d.startswith("2007")) - 0.5
for ax in (ax_p1, ax_c1, ax_v1):
    ax.set_xlim(-0.29, 65.04)
    day_marks(ax, [year_start], style=(0, (5, 3)))
top_label(ax_p1, year_start + 1.9, "2007", 5)

# ------------------------------------------------------------------
# window 2: ESH7 15-minute
# ------------------------------------------------------------------
es15_times = ["2007-01-12 15:45"] + [t for d in es15_days[1:] for t in session_times(f"{d} 09:30", 26, "15min")]


def x15(stamps):
    return slots(stamps, es15_days, "2007-01-15", 15, 26)


k15 = x15(es15_times)
ax_p2 = px_axes(31, 323, 505, 480)
ax_v2 = px_axes(31, 482, 505, 516)
draw_ma(ax_p2, x15(es15_ma20.keys()), list(es15_ma20.values()), "black", lw=0.8)
draw_candles(ax_p2, k15, es15_open, es15_high, es15_low, es15_close, 0.67)
draw_studies(ax_p2, es15_lines, es15_circles, es15_notes, x15)
style_pane(ax_p2, 1434.77, 1445.98, [1436, 1438, 1440, 1442, 1444], 0.25)
ax_p2.set_ylim(1434.48, 1445.98)

draw_volume(ax_v2, k15, es15_volume, 0.67)
style_pane(ax_v2, 0, 73700, [50000], baseline=True)
ax_v2.set_ylim(0, 78340)
tick15 = pd.to_datetime(es15_tick_times)
ax_v2.set_xticks(x15(es15_tick_times), labels=[f"{t.hour}:{t.minute:02d}" for t in tick15])
ax_v2.tick_params(axis="x", bottom=True, length=0, labelsize=6, labelcolor="black", pad=7.5)

sessions15 = x15([f"{d} 09:30" for d in es15_days[1:]]) - 0.5
for ax in (ax_p2, ax_v2):
    ax.set_xlim(-1.17, 77.83)
    day_marks(ax, sessions15)
for x, d, off in zip(sessions15, es15_days[1:], (1.2, 2.0, 1.2)):
    top_label(ax_p2, x + off, f"{int(d[5:7])}/{int(d[8:10])}", 7)

# ------------------------------------------------------------------
# window 3: ESH7 5-minute
# ------------------------------------------------------------------
es5_times = session_times("2007-01-16 14:40", 16, "5min") + session_times("2007-01-17 09:30", 78, "5min")


def x5(stamps):
    return slots(stamps, es5_days, "2007-01-17", 5, 78)


m5 = x5(es5_times)
ax_p3 = px_axes(30, 582, 505, 739)
ax_v3 = px_axes(30, 741, 505, 757)
draw_ma(ax_p3, x5(es5_ma200.keys()), list(es5_ma200.values()), "#990000", lw=0.9)
draw_ma(ax_p3, x5(es5_ma20.keys()), list(es5_ma20.values()), "black", lw=0.8)
draw_candles(ax_p3, m5, es5_open, es5_high, es5_low, es5_close, 0.65)
draw_studies(ax_p3, es5_lines, es5_circles, es5_notes, x5)
style_pane(ax_p3, 1435.42, 1443.1, [1436, 1437, 1438, 1439, 1440, 1441, 1442, 1443], 0.25)
ax_p3.set_ylim(1435.27, 1443.1)

draw_volume(ax_v3, m5, es5_volume, 0.6)
style_pane(ax_v3, 0, 35000, [20000], baseline=True)
ax_v3.set_ylim(0, 43200)
tick5 = pd.to_datetime(es5_tick_times)
ax_v3.set_xticks(x5(es5_tick_times), labels=[f"{t.hour}:{t.minute:02d}" for t in tick5])
ax_v3.tick_params(axis="x", bottom=True, length=0, labelsize=6, labelcolor="black", pad=7.3)

session5 = x5(["2007-01-17 09:30"]) - 0.5
for ax in (ax_p3, ax_v3):
    ax.set_xlim(-16.9, 78.1)
    day_marks(ax, session5)
top_label(ax_p3, session5[0] + 2.5, "1/17", 9)

# ------------------------------------------------------------------
# pane separators
# ------------------------------------------------------------------
overlay = px_axes(0, 0, W, H, z=5)
for y in (187.5, 189.5, 229.3, 231.3, 480.3, 482.3, 739.5, 741.5):
    overlay.plot([4, 514], [y, y], color="black", lw=0.8)
overlay.set_xlim(0, W)
overlay.set_ylim(H, 0)
overlay.axis("off")

fig.savefig("out.png", dpi=100, facecolor=fig.get_facecolor())
